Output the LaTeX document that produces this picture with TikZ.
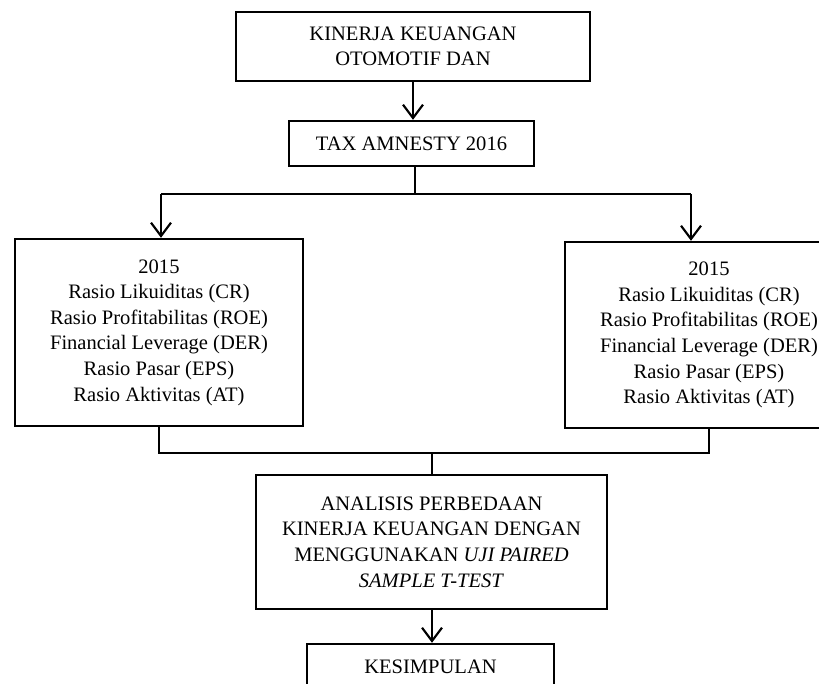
\documentclass[tikz,border=0pt]{standalone}
\usepackage{fontspec}
\setmainfont{Liberation Serif}
\usetikzlibrary{arrows.meta, positioning, calc}

\tikzset{
  flowbox/.style={draw=black,line width=1.8pt,align=center,inner sep=0pt,
    font=\fontsize{15.4}{19.2}\selectfont},
  flowline/.style={black,line width=1.6pt},
  flowarrow/.style={flowline,-{Straight Barb[length=10pt,width=15pt]}},
}

\begin{document}
\begin{tikzpicture}[x=0.75pt,y=-0.75pt]
\useasboundingbox (0,0) rectangle (819,684);
\newcommand{\rasiobox}[3]{%
  \node[flowbox,minimum width=216pt,minimum height=#3] (#1) at (#2)
    {2015\\Rasio Likuiditas (CR)\\Rasio Profitabilitas (ROE)\\Financial Leverage (DER)\\Rasio Pasar (EPS)\\Rasio Aktivitas (AT)};
}

\node[flowbox,minimum width=265.5pt,minimum height=51.75pt] (kinerja) at (413,46.5)
  {KINERJA KEUANGAN\\OTOMOTIF DAN};
\node[flowbox,minimum width=183.75pt,minimum height=33.75pt] (tax) at (411.5,143.5)
  {TAX AMNESTY 2016};
\rasiobox{ratioL}{159,332.5}{140.25pt}
\rasiobox{ratioR}{709,335}{139.5pt}
\node[flowbox,minimum width=263.25pt,minimum height=100.5pt] (analisis) at (431.5,542)
  {ANALISIS PERBEDAAN\\KINERJA KEUANGAN DENGAN\\MENGGUNAKAN \textit{UJI PAIRED}\\\textit{SAMPLE T-TEST}};
\node[flowbox,minimum width=185.25pt,minimum height=34.5pt] (kesimpulan) at (430.5,667)
  {KESIMPULAN};

\coordinate (split) at (415,194);
\coordinate (splitL) at (161,194);
\coordinate (splitR) at (691,194);
\coordinate (join) at (432,453);

\draw[flowarrow] (kinerja.south) -- (kinerja.south |- tax.north);
\draw[flowline] (tax.south -| split) -- (split);
\draw[flowline] (splitL) -- (splitR);
\draw[flowarrow] (splitL) -- (splitL |- ratioL.north);
\draw[flowarrow] (splitR) -- (splitR |- ratioR.north);
\draw[flowline] (ratioL.south) |- (join) -| (ratioR.south);
\draw[flowline] (join) -- (join |- analisis.north);
\draw[flowarrow] (join |- analisis.south) -- (join |- kesimpulan.north);
\end{tikzpicture}
\end{document}
